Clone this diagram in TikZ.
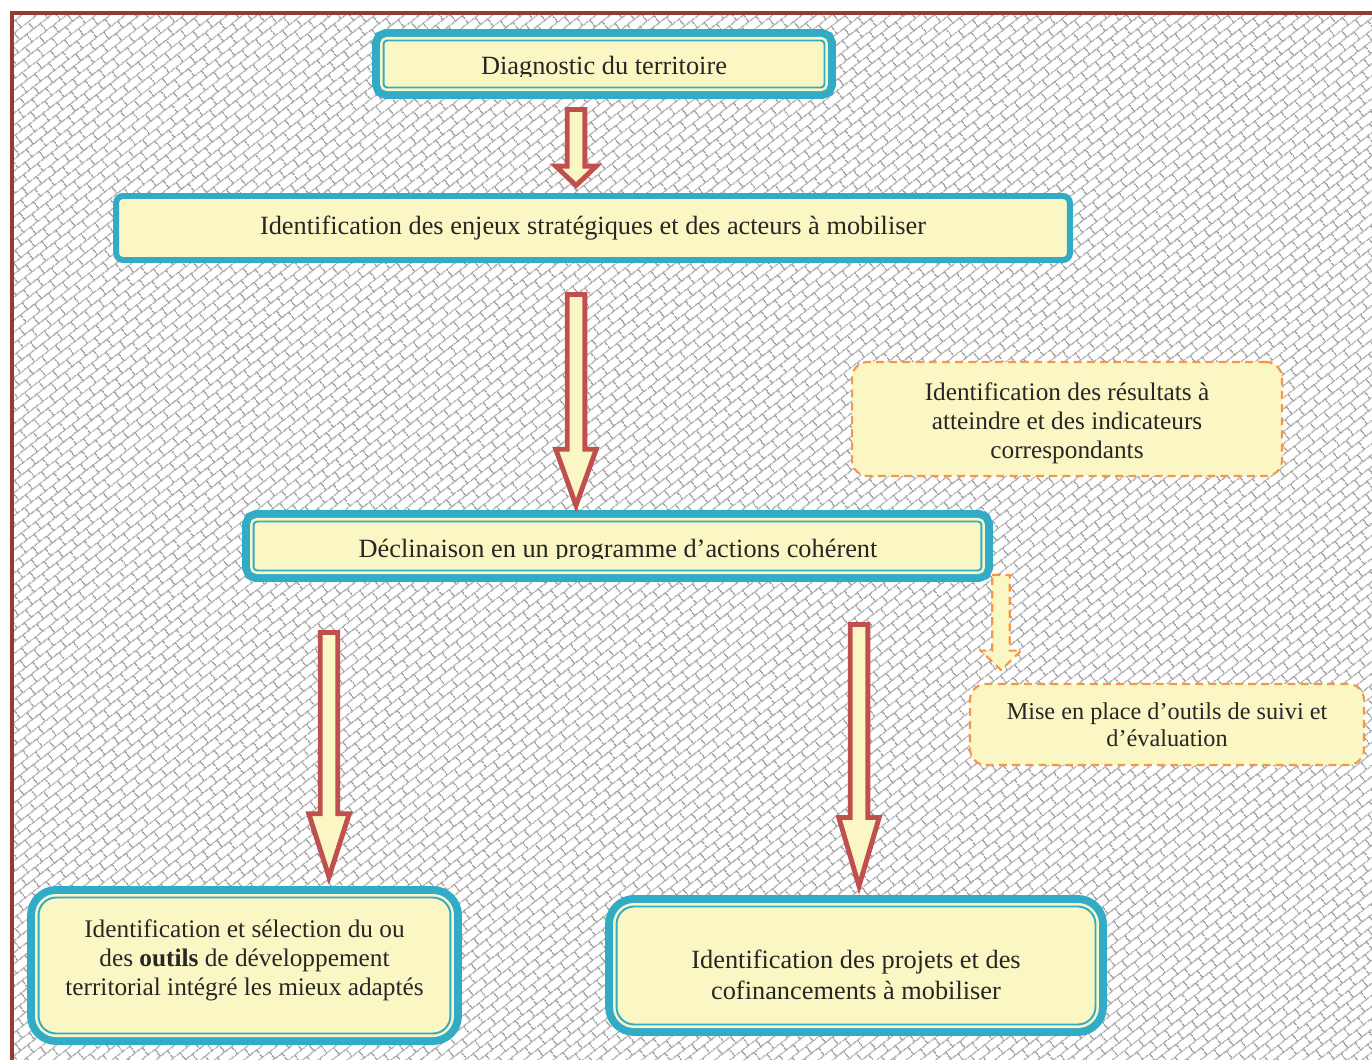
\documentclass[tikz,border=0pt]{standalone}
\usepackage{fontspec}
\setmainfont{Liberation Serif}
\usetikzlibrary{calc,patterns.meta}

\definecolor{boxteal}{RGB}{49,171,198}
\definecolor{boxcream}{RGB}{251,247,196}
\definecolor{arrowred}{RGB}{192,80,77}
\definecolor{dashorange}{RGB}{247,150,70}
\definecolor{framered}{RGB}{152,58,52}

\tikzdeclarepattern{
	name=bricks,
	type=uncolored,
	bounding box={(0pt,0pt) and (10pt,10pt)},
	tile size={(10pt,10pt)},
	tile transformation={rotate=38},
	code={
		\draw[line width=0.7pt] (0pt,2.5pt) -- (10pt,2.5pt);
		\draw[line width=0.7pt] (0pt,7.5pt) -- (10pt,7.5pt);
		\draw[line width=0.7pt] (2.5pt,2.5pt) -- (2.5pt,7.5pt);
		\draw[line width=0.7pt] (7.5pt,7.5pt) -- (7.5pt,10pt);
		\draw[line width=0.7pt] (7.5pt,0pt) -- (7.5pt,2.5pt);
	}
}

\newcommand{\blockarrow}[4][redarrow]{%
	\draw[#1] let \p1=(#2), \p2=(#3) in
		(\x1-5pt,\y1) -- (\x1+5pt,\y1) -- (\x1+5pt,\y2+#4) -- (\x1+11.5pt,\y2+#4)
		-- (\x2,\y2) -- (\x1-11.5pt,\y2+#4) -- (\x1-5pt,\y2+#4) -- cycle;}

\tikzset{
	txt/.style={font=\fontsize{15}{16.4}\selectfont, text=black!85, align=center},
	smalltxt/.style={font=\fontsize{14.4}{16.6}\selectfont, text=black!85, align=center},
	dblbox/.style={draw=boxteal, line width=1.1pt, fill=boxcream, inner sep=0pt,
		preaction={draw=boxteal, line width=13pt},
		preaction={draw=boxcream, line width=4pt}},
	onebox/.style={txt, draw=boxteal, line width=3.4pt, fill=boxcream, inner sep=0pt,
		rounded corners=4pt},
	dashbox/.style={smalltxt, draw=dashorange, line width=1.2pt, fill=boxcream, inner sep=0pt,
		rounded corners=9pt, dash pattern=on 4.5pt off 3pt},
	redarrow/.style={draw=arrowred, fill=boxcream, line width=2.8pt},
	dasharrow/.style={draw=dashorange, fill=boxcream, line width=1.2pt, dash pattern=on 4.5pt off 3pt},
}

\begin{document}
\begin{tikzpicture}[x=0.02cm, y=-0.02cm]
	\useasboundingbox (0,0) rectangle (1372,1060);
	\fill[white] (0,0) rectangle (1372,1060);
	\fill[pattern=bricks, pattern color=gray!70] (12,13) rectangle (1372,1060);
	\draw[framered, line width=2.3pt] (12,1060) -- (12,13) -- (1372,13);

	% boxes
	\node[dblbox, rounded corners=2pt, minimum width=8.82cm, minimum height=0.94cm] (diag) at (604,64) {};
	\begin{scope}
		\clip (diag.north west) rectangle (824,76.5);
		\node[txt, anchor=base] (diagtxt) at (604,75) {Diagnostic du territoire};
	\end{scope}
	\node[onebox, minimum width=19.08cm, minimum height=1.28cm] (enjeux) at (593,228)
		{Identification des enjeux stratégiques et des acteurs à mobiliser};
	\node[dashbox, minimum width=8.6cm, minimum height=2.28cm] (result) at (1067,419) {};
	\node[smalltxt] (resulttxt) at (1067,423)
		{Identification des résultats à\\atteindre et des indicateurs\\correspondants};
	\node[dblbox, rounded corners=2pt, minimum width=14.56cm, minimum height=0.98cm] (decl) at (617.5,546) {};
	\begin{scope}
		\clip (decl.north west) rectangle (981,558.5);
		\node[txt, anchor=base] (decltxt) at (618,557) {Déclinaison en un programme d’actions cohérent};
	\end{scope}
	\node[dashbox, font=\fontsize{13.8}{15.3}\selectfont, minimum width=7.88cm, minimum height=1.62cm] (suivi) at (1167,724.5)
		{Mise en place d’outils de suivi et\\d’évaluation};
	\node[dblbox, rounded corners=10pt, minimum width=8.24cm, minimum height=2.72cm] (outils) at (244.5,965.5) {};
	\node[smalltxt] (outilstxt) at (244.5,960)
		{Identification et sélection du ou\\des \textbf{outils} de développement\\territorial intégré les mieux adaptés};
	\node[dblbox, rounded corners=10pt, minimum width=9.58cm, minimum height=2.36cm] (projets) at (856,965.5) {};
	\node[txt, font=\fontsize{15}{18}\selectfont] (projetstxt) at (856,975)
		{Identification des projets et des\\cofinancements à mobiliser};

	% arrows
	\coordinate (a1s) at (576,109.5);
	\coordinate (a1e) at (576,185.5);
	\coordinate (a2s) at (576,294.5);
	\coordinate (a2e) at (576,505.5);
	\coordinate (a3s) at (329,632.5);
	\coordinate (a3e) at (329,877);
	\coordinate (a4s) at (859,624.5);
	\coordinate (a4e) at (859,886);
	\coordinate (a5s) at (1001,575);
	\coordinate (a5e) at (1001,670);
	\blockarrow{a1s}{a1e}{11pt}
	\blockarrow{a2s}{a2e}{32pt}
	\blockarrow{a3s}{a3e}{36pt}
	\blockarrow{a4s}{a4e}{39pt}
	\blockarrow[dasharrow]{a5s}{a5e}{11pt}
\end{tikzpicture}
\end{document}
